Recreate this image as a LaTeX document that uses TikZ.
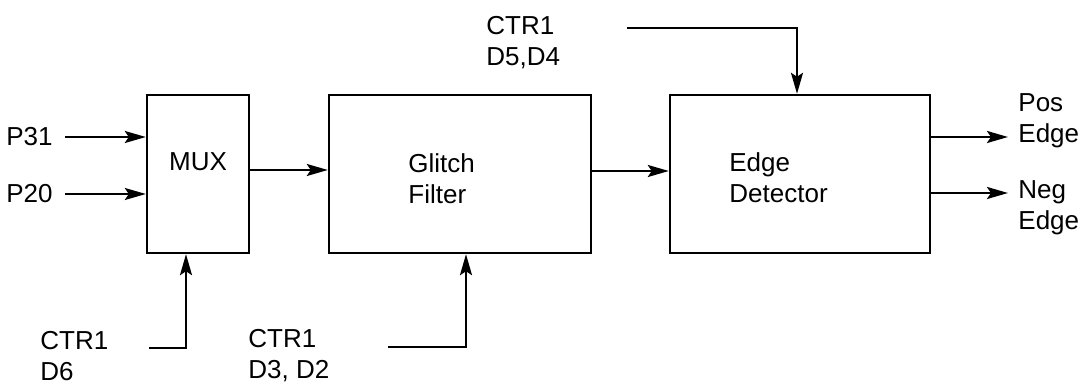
\documentclass[tikz,border=0pt]{standalone}
\usepackage{fontspec}
\setmainfont{Liberation Sans}
\usetikzlibrary{arrows.meta}

\tikzset{
  block/.style={draw, line width=1.2pt, minimum height=79pt, inner sep=0pt},
  lbl/.style={inner sep=0pt, align=left, font=\fontsize{13}{15.5}\selectfont},
  wire/.style={->, line width=1.2pt},
}

\begin{document}
\begin{tikzpicture}[x=0.5pt,y=-0.5pt,>={Stealth[length=10.5pt,width=6pt,inset=2pt]}]
    \useasboundingbox (0,0) rectangle (1088,385);

    % blocks
    \node[block, minimum width=51pt] (mux) at (198,174) {};
    \node[block, minimum width=131pt] (glitch) at (460,174) {};
    \node[block, minimum width=130pt] (edge) at (800,174) {};

    \node[lbl] (muxtxt) at (198,162) {MUX};
    \node[lbl, anchor=west] (glitchtxt) at (408,179) {Glitch\\Filter};
    \node[lbl, anchor=west] (edgetxt) at (729,178) {Edge\\Detector};

    % inputs and outputs
    \node[lbl, anchor=east] (p31) at (53,137) {P31};
    \node[lbl, anchor=east] (p20) at (53,194) {P20};
    \node[lbl, anchor=west] (ctrmux) at (40,356) {CTR1\\D6};
    \node[lbl, anchor=west] (ctrglitch) at (248,356) {CTR1\\D3, D2};
    \node[lbl, anchor=west] (ctredge) at (486,43) {CTR1\\D5,D4};
    \node[lbl, anchor=west] (pos) at (1018,121) {Pos\\Edge};
    \node[lbl, anchor=west] (neg) at (1018,208) {Neg\\Edge};

    \coordinate (muxsel) at (149,348);
    \coordinate (glitchsel) at (388,347);
    \coordinate (edgesel) at (627,28);
    \coordinate (posout) at (1008,137);
    \coordinate (negout) at (1008,193);

    \draw[wire, shorten <=6pt] (p31.east) -- (p31.east -| mux.west);
    \draw[wire, shorten <=6pt] (p20.east) -- (p20.east -| mux.west);
    \draw[wire] (muxsel) -| ([xshift=-6pt]mux.south);
    \draw[wire] (glitchsel) -| ([xshift=3pt]glitch.south);
    \draw[wire] (edgesel) -| ([xshift=-1.5pt]edge.north);
    \draw[wire] ([yshift=2pt]mux.east) -- ([yshift=2pt]mux.east -| glitch.west);
    \draw[wire] ([yshift=1.5pt]glitch.east) -- ([yshift=1.5pt]glitch.east -| edge.west);
    \draw[wire] ([yshift=18.5pt]edge.east) -- (posout);
    \draw[wire] ([yshift=-9.5pt]edge.east) -- (negout);
\end{tikzpicture}
\end{document}
